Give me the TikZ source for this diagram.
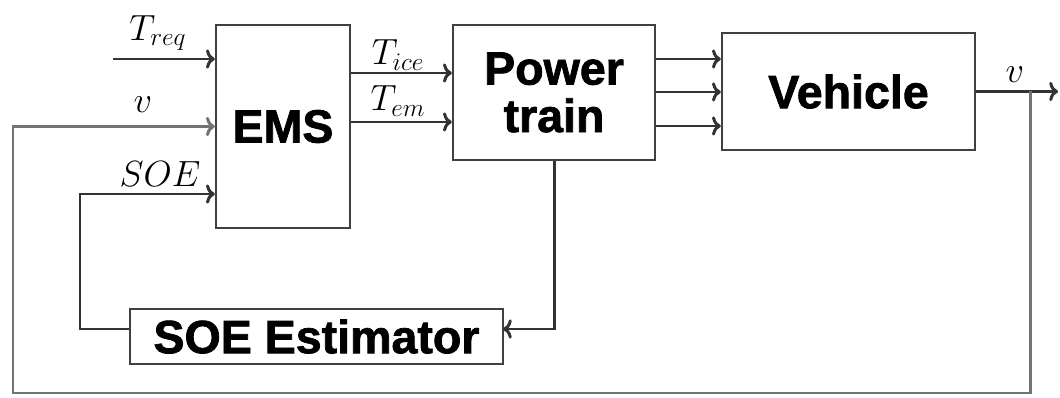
\documentclass[tikz,border=0pt]{standalone}
\usepackage{fontspec}
\setsansfont{Liberation Sans}[BoldFeatures={FakeBold=1.6}]
\usetikzlibrary{calc,arrows.meta}

\begin{document}
\begin{tikzpicture}[x=0.02cm, y=-0.02cm,
	blok/.style={draw=black!75, line width=1.4pt, fill=white, align=center, inner sep=0pt,
		font=\sffamily\bfseries\fontsize{26.5}{27}\selectfont},
	sygnal/.style={-{To[length=5pt,width=11pt]}, line width=1.7pt, draw=black!80},
	etykieta/.style={font=\fontsize{21}{23}\selectfont, inner sep=0pt}]
					\useasboundingbox (0,0) rectangle (1060,398);
					
					% Bloki
					\node[blok, minimum width=2.68cm, minimum height=4.06cm] (ems) at (283,126.5) {EMS};
					\node[blok, minimum width=4.04cm, minimum height=2.7cm] (pt) at (554,92.5) {Power\\train};
					\node[blok, minimum width=5.06cm, minimum height=2.34cm] (veh) at (848.5,91.5) {Vehicle};
					\node[blok, minimum width=7.46cm, minimum height=1.1cm] (est) at (316.5,336.5) {SOE Estimator};
					
					% Punkty pomocnicze
					\coordinate (treq) at (113,59);
					\coordinate (tice) at (0,73);
					\coordinate (tem) at (0,122);
					\coordinate (vwezel) at (1030,91.5);
					\coordinate (vkoniec) at (1058,91.5);
					\coordinate (vdol) at (13,393);
					\coordinate (soewe) at (503,329);
					\coordinate (soewezel) at (80,194);
					
					% Sygnaly
					\draw[sygnal] (treq) -- (treq -| ems.west);
					\draw[sygnal] (ems.east |- tice) -- (pt.west |- tice);
					\draw[sygnal] (ems.east |- tem) -- (pt.west |- tem);
					\foreach \y in {59,92,126}
						\draw[sygnal] (pt.east |- 0,\y) -- (veh.west |- 0,\y);
					\draw[sygnal] (veh.east) -- (vkoniec);
					
					% Sprzezenia zwrotne
					\draw[sygnal, draw=black!55] (vwezel) |- (vdol) |- (ems.west);
					\draw[sygnal] (pt.south) |- (soewe);
					\draw[sygnal] (est.west |- soewe) -| (soewezel) -- (soewezel -| ems.west);
					
					% Etykiety
					\node[etykieta] (lreq) at (158,33) {$T_{req}$};
					\node[etykieta] (lv) at (143,105) {$v$};
					\node[etykieta] (lsoe) at (160,174) {$SOE$};
					\node[etykieta] (lice) at (398,55) {$T_{ice}$};
					\node[etykieta] (lem) at (398,101) {$T_{em}$};
					\node[etykieta] (lvout) at (1015,75) {$v$};
				\end{tikzpicture}
\end{document}
